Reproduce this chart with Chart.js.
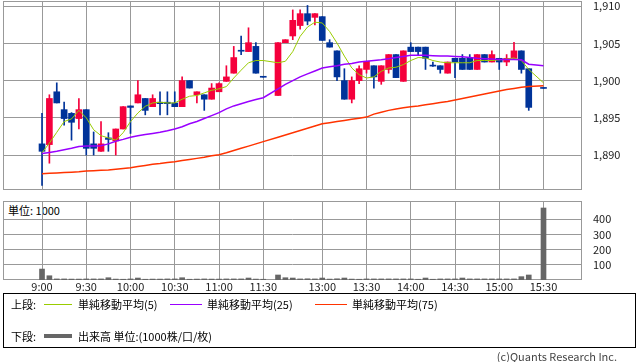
<!DOCTYPE html>
<html>
<head>
<meta charset="utf-8">
<script src="https://cdn.jsdelivr.net/npm/chart.js@4"></script>
<style>
body { margin: 0; width: 638px; height: 362px; background: #fff; position: relative; overflow: hidden;
  font-family: "Noto Sans CJK JP", sans-serif; font-size: 11px; color: #000; }
canvas { position: absolute; left: 0; }
#main { top: -10px; }
#vol { top: 190px; }
.t { position: absolute; white-space: nowrap; line-height: 14px; }
.ln { position: absolute; height: 0; border-top: 1px solid; }
</style>
</head>
<body>
<div class="t" style="left:8px;top:203px">単位: 1000</div>
<canvas id="main" width="638" height="201"></canvas>
<canvas id="vol" width="638" height="110"></canvas>

<div style="position:absolute;left:3px;top:293px;width:631px;height:53px;border:1px solid #000"></div>
<div class="t" style="left:11px;top:297px">上段:</div>
<div class="ln" style="left:44px;top:304px;width:28px;border-color:#99cc00"></div>
<div class="t" style="left:78px;top:297px">単純移動平均(5)</div>
<div class="ln" style="left:170px;top:304px;width:32px;border-color:#9900ff"></div>
<div class="t" style="left:207px;top:297px">単純移動平均(25)</div>
<div class="ln" style="left:315px;top:304px;width:32px;border-color:#ff3300"></div>
<div class="t" style="left:352px;top:297px">単純移動平均(75)</div>
<div class="t" style="left:11px;top:329px">下段:</div>
<div class="ln" style="left:44px;top:334px;width:28px;border-top:4px solid #666"></div>
<div class="t" style="left:78px;top:329px">出来高 単位:(1000株/口/枚)</div>
<div class="t" style="right:21px;top:349px;color:#444">(c)Quants Research Inc.</div>

<script>
// 5-minute slots, '' = lunch break gap
const times = [
  '9:00','9:05','9:10','9:15','9:20','9:25','9:30','9:35','9:40','9:45','9:50','9:55',
  '10:00','10:05','10:10','10:15','10:20','10:25','10:30','10:35','10:40','10:45','10:50','10:55',
  '11:00','11:05','11:10','11:15','11:20','11:25','11:30','',
  '12:30','12:35','12:40','12:45','12:50','12:55',
  '13:00','13:05','13:10','13:15','13:20','13:25','13:30','13:35','13:40','13:45','13:50','13:55',
  '14:00','14:05','14:10','14:15','14:20','14:25','14:30','14:35','14:40','14:45','14:50','14:55',
  '15:00','15:05','15:10','15:15','15:20','15:25','15:30'
];
const tickTimes = ['9:00','9:30','10:00','10:30','11:00','11:30','13:00','13:30','14:00','14:30','15:00','15:30'];
const priceTicks = [1890, 1895, 1900, 1905, 1910];
const volumeTicks = [100, 200, 300, 400];

const open = [1891.5,1891.4,1898.5,1896.1,1895.6,1894.9,1896.1,1891.5,1890.5,1892.3,
  1891.9,1893.5,1896.6,1897.0,1897.6,1896.5,1897.1,1897.1,1897.0,1896.5,
  1900.0,1898.1,1898.1,1897.5,1898.5,1899.9,1901.0,1904.05,1903.9,1904.6,
  1900.55,null,1898.0,1905.1,1906.0,1907.4,1909.0,1908.5,1908.6,1905.1,
  1904.0,1900.0,1897.5,1900.0,1901.5,1902.0,1899.9,1901.5,1903.5,1899.9,
  1904.5,1904.5,1904.5,1902.05,1902.0,1901.0,1903.0,1903.0,1903.0,1901.5,
  1903.5,1902.5,1903.0,1902.5,1903.0,1904.0,1901.6,null,1899.05];
const high = [1895.6,1898.1,1899.7,1897.1,1895.7,1897.6,1896.1,1893.1,1894.5,1893.0,
  1893.5,1896.5,1896.6,1900.0,1897.6,1898.1,1898.5,1898.5,1898.5,1900.5,
  1900.0,1898.5,1898.1,1899.6,1899.7,1902.0,1904.6,1906.0,1907.1,1905.1,
  1900.55,null,1905.1,1905.5,1909.5,1909.5,1910.1,1909.0,1908.6,1905.5,
  1904.0,1901.6,1900.5,1902.0,1902.6,1902.0,1902.0,1903.5,1903.5,1904.0,
  1905.1,1904.5,1904.5,1902.5,1902.0,1902.5,1903.0,1903.5,1903.5,1903.5,
  1903.5,1904.0,1903.0,1903.5,1905.15,1904.0,1901.6,null,1899.05];
const low = [1885.9,1888.9,1897.0,1894.0,1892.0,1893.5,1890.0,1890.0,1890.5,1890.5,
  1890.0,1893.5,1892.9,1897.0,1895.4,1896.5,1895.4,1895.4,1896.5,1896.5,
  1899.0,1897.0,1896.0,1897.5,1898.5,1899.9,1901.0,1903.5,1903.9,1901.0,
  1900.45,null,1898.0,1905.1,1905.5,1906.9,1907.5,1907.5,1905.4,1904.5,
  1900.0,1897.5,1897.0,1899.6,1901.0,1899.0,1899.5,1901.0,1900.4,1899.9,
  1903.9,1903.5,1901.5,1901.9,1901.0,1901.0,1900.4,1901.5,1901.5,1901.5,
  1902.5,1902.5,1901.5,1902.0,1903.0,1901.0,1896.0,null,1898.95];
const close = [1890.5,1897.6,1897.0,1894.9,1894.4,1896.1,1890.9,1890.9,1891.5,1892.1,
  1893.5,1896.5,1896.4,1898.1,1896.0,1897.6,1896.9,1896.9,1896.5,1900.0,
  1899.0,1898.5,1897.5,1899.0,1899.6,1900.5,1903.1,1903.95,1905.1,1901.0,
  1900.45,null,1905.1,1905.5,1908.1,1909.0,1908.0,1909.0,1905.4,1904.5,
  1900.5,1897.5,1900.0,1901.6,1902.6,1900.5,1902.0,1903.5,1900.4,1904.0,
  1903.9,1903.9,1903.0,1901.95,1901.5,1902.5,1902.5,1901.5,1901.5,1903.5,
  1902.5,1903.5,1902.5,1903.0,1904.0,1901.5,1896.4,null,1898.95];

const ma5 = [1890.3,1891.6,1893.05,1894.5,1894.85,1896.0,1895.0,1893.4,1892.6,1892.3,
  1892.0,1893.0,1894.5,1895.65,1896.55,1897.0,1897.1,1897.0,1897.0,1897.5,
  1897.9,1898.0,1898.35,1898.7,1898.9,1899.2,1900.35,1901.4,1902.4,1902.7,
  1902.7,null,1902.4,1902.6,1903.9,1905.95,1907.2,1907.85,1907.75,1906.6,
  1905.05,1903.3,1901.7,1900.8,1900.35,1900.5,1901.25,1901.7,1901.8,1902.15,
  1902.7,1903.1,1903.05,1902.7,1902.5,1902.4,1902.4,1902.4,1902.4,1902.7,
  1902.7,1902.7,1902.8,1902.9,1903.05,1902.7,1901.5,null,1899.7];
const ma25 = [1890.2,1890.35,1890.5,1890.7,1890.9,1891.15,1891.2,1891.2,1891.25,1891.5,
  1891.85,1892.1,1892.4,1892.6,1892.75,1892.9,1893.05,1893.25,1893.5,1893.8,
  1894.2,1894.5,1894.9,1895.3,1895.7,1896.2,1896.6,1896.9,1897.2,1897.45,
  1897.7,null,1898.9,1899.5,1900.0,1900.5,1900.9,1901.3,1901.7,1901.85,
  1902.0,1902.2,1902.3,1902.5,1902.6,1902.7,1902.8,1902.95,1903.1,1903.25,
  1903.4,1903.4,1903.4,1903.35,1903.3,1903.3,1903.25,1903.2,1903.1,1903.0,
  1902.95,1902.9,1902.85,1902.85,1902.85,1902.8,1902.2,null,1902.0];
const ma75 = [1887.5,1887.55,1887.6,1887.65,1887.7,1887.75,1887.85,1887.9,1887.95,1888.0,
  1888.1,1888.2,1888.3,1888.45,1888.6,1888.75,1888.85,1889.0,1889.1,1889.25,
  1889.4,1889.55,1889.7,1889.9,1890.05,1890.3,1890.6,1890.9,1891.2,1891.5,
  1891.8,null,1892.4,1892.7,1893.0,1893.3,1893.6,1893.9,1894.2,1894.35,
  1894.5,1894.65,1894.8,1894.95,1895.1,1895.5,1895.75,1896.0,1896.2,1896.35,
  1896.5,1896.6,1896.75,1896.9,1897.05,1897.2,1897.4,1897.6,1897.8,1898.0,
  1898.2,1898.4,1898.6,1898.8,1898.95,1899.1,1899.2,null,1899.3];

const volume = [72,28,7,7,6,6,7,7,7,15,
  6,5,7,13,5,6,6,7,7,15,
  5,6,7,6,6,7,7,7,13,6,
  5,null,33,15,13,7,8,7,13,6,
  8,13,6,5,7,7,7,7,7,7,
  7,5,13,5,7,7,7,13,7,7,
  7,7,7,7,7,22,33,null,474];

const upColor = '#f5003c';
const downColor = '#003399';
const gridColor = '#999999';
const font = { family: '"Noto Sans CJK JP", sans-serif', size: 11 };

const slots = times.map((t, i) => i);
const candleSlots = slots.filter(i => open[i] !== null);
const candleColor = i => close[i] > open[i] ? upColor : downColor;

// draws the grey frame around each panel
const frame = {
  id: 'frame',
  beforeDatasetsDraw(chart) {
    const { ctx, chartArea: a } = chart;
    ctx.save();
    ctx.strokeStyle = gridColor;
    ctx.lineWidth = 1;
    ctx.strokeRect(a.left + 0.5, a.top + 0.5, a.width - 1, a.height - 1);
    ctx.restore();
  }
};

function timeAxis(showLabels) {
  return {
    type: 'linear',
    offset: false,
    min: -5.29,
    max: 73.22,
    afterBuildTicks: s => { s.ticks = tickTimes.map(t => ({ value: times.indexOf(t) })); },
    afterFit: s => { s.height = showLabels ? 20 : 0; s.paddingLeft = 0; s.paddingRight = 0; },
    grid: { color: gridColor, drawTicks: false, offset: false },
    border: { display: false },
    ticks: {
      display: showLabels, padding: 0, color: '#222', font: font,
      autoSkip: false, maxRotation: 0,
      callback: v => times[v]
    }
  };
}

function valueAxis(min, max, tickValues, fmt) {
  return {
    position: 'right',
    min: min,
    max: max,
    afterBuildTicks: s => { s.ticks = tickValues.map(v => ({ value: v })); },
    afterFit: s => { s.width = 56; s.paddingTop = 0; s.paddingBottom = 0; },
    grid: { color: gridColor, drawTicks: false },
    border: { display: false },
    ticks: { padding: 11, color: '#222', font: font, callback: fmt }
  };
}

const lineSet = (values, color, width) => ({
  type: 'line',
  data: slots.map(i => ({ x: i, y: values[i] })),
  borderColor: color,
  borderWidth: width,
  pointRadius: 0,
  spanGaps: true,
  tension: 0,
  order: 0
});

new Chart(document.getElementById('main'), {
  data: {
    datasets: [
      {
        type: 'bar',
        data: candleSlots.map(i => ({ x: i, y: [low[i], high[i]] })),
        backgroundColor: candleSlots.map(candleColor),
        barThickness: 1,
        grouped: false,
        order: 3
      },
      {
        type: 'bar',
        data: candleSlots.map(i => ({ x: i, y: [open[i], close[i]] })),
        backgroundColor: candleSlots.map(candleColor),
        barThickness: 6,
        minBarLength: 1,
        grouped: false,
        order: 2
      },
      lineSet(ma75, '#ff3300', 1.5),
      lineSet(ma25, '#9900ff', 1.5),
      lineSet(ma5, '#99cc00', 1)
    ]
  },
  options: {
    responsive: false,
    animation: false,
    layout: { padding: { left: 3, right: 0, top: 11, bottom: 1 } },
    plugins: { legend: { display: false }, tooltip: { enabled: false } },
    scales: {
      x: timeAxis(false),
      y: valueAxis(1885.3, 1910.7, priceTicks, v => v.toLocaleString('en-US'))
    }
  },
  plugins: [frame]
});

new Chart(document.getElementById('vol'), {
  type: 'bar',
  data: {
    datasets: [{
      data: slots.filter(i => volume[i] !== null).map(i => ({ x: i, y: volume[i] })),
      backgroundColor: '#666666',
      barThickness: 5
    }]
  },
  options: {
    responsive: false,
    animation: false,
    layout: { padding: { left: 3, right: 0, top: 11, bottom: 0 } },
    plugins: { legend: { display: false }, tooltip: { enabled: false } },
    scales: {
      x: timeAxis(true),
      y: valueAxis(0, 520, volumeTicks, v => v)
    }
  },
  plugins: [frame]
});
</script>
</body>
</html>
